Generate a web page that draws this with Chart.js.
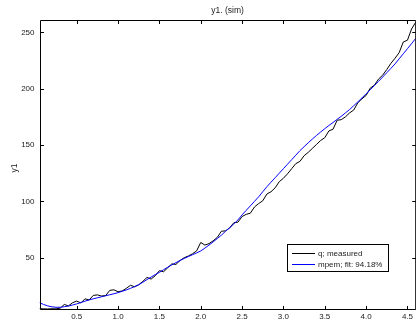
<!DOCTYPE html>
<html>
<head>
<meta charset="utf-8">
<script src="https://cdn.jsdelivr.net/npm/chart.js@4/dist/chart.umd.min.js"></script>
<style>
  body { margin: 0; background: #fff; }
  #wrap { width: 416px; height: 323px; overflow: hidden; }
</style>
</head>
<body>
<div id="wrap"><canvas id="chart" width="416" height="323"></canvas></div>
<script>
const time = [
  0.05, 0.10, 0.15, 0.20, 0.25, 0.30, 0.35, 0.40, 0.45, 0.50,
  0.55, 0.60, 0.65, 0.70, 0.75, 0.80, 0.85, 0.90, 0.95, 1.00,
  1.05, 1.10, 1.15, 1.20, 1.25, 1.30, 1.35, 1.40, 1.45, 1.50,
  1.55, 1.60, 1.65, 1.70, 1.75, 1.80, 1.85, 1.90, 1.95, 2.00,
  2.05, 2.10, 2.15, 2.20, 2.25, 2.30, 2.35, 2.40, 2.45, 2.50,
  2.55, 2.60, 2.65, 2.70, 2.75, 2.80, 2.85, 2.90, 2.95, 3.00,
  3.05, 3.10, 3.15, 3.20, 3.25, 3.30, 3.35, 3.40, 3.45, 3.50,
  3.55, 3.60, 3.65, 3.70, 3.75, 3.80, 3.85, 3.90, 3.95, 4.00,
  4.05, 4.10, 4.15, 4.20, 4.25, 4.30, 4.35, 4.40, 4.45, 4.50,
  4.55, 4.60
];

// q; measured
const measured = [
  4.8, 4.6, 4.5, 4.7, 4.6, 5.2, 8.5, 7.2, 10.0, 11.5,
  9.8, 13.5, 12.5, 16.5, 17.0, 16.0, 16.4, 21.0, 21.5, 19.8,
  20.5, 22.8, 25.5, 24.2, 26.0, 29.0, 32.5, 31.0, 34.0, 38.5,
  37.5, 41.0, 44.5, 44.0, 47.5, 50.0, 51.5, 53.5, 56.0, 63.5,
  61.2, 62.5, 65.0, 68.0, 73.5, 73.8, 76.5, 81.0, 81.5, 86.5,
  88.5, 89.5, 95.0, 98.0, 100.5, 106.5, 108.5, 112.0, 117.5, 120.5,
  124.5, 129.0, 133.5, 135.5, 140.5, 143.5, 147.0, 150.5, 154.0, 156.5,
  162.5, 164.0, 172.0, 172.5, 175.0, 178.5, 181.0, 187.5, 191.0, 194.0,
  200.5, 203.0, 208.5, 212.0, 217.0, 222.5, 227.0, 232.0, 241.5, 243.0,
  253.0, 259.0
];

// mpem; simulated fit
const fitted = [
  10.0, 8.5, 7.2, 6.4, 6.0, 6.0, 6.5, 7.1, 8.0, 9.0,
  10.2, 11.4, 12.5, 13.5, 14.4, 15.3, 16.2, 17.1, 18.0, 19.0,
  20.2, 21.4, 22.8, 24.3, 26.0, 28.2, 30.6, 32.8, 35.0, 37.0,
  39.3, 41.5, 43.6, 45.6, 47.5, 49.3, 51.0, 52.6, 54.2, 56.0,
  58.5, 61.2, 64.0, 67.0, 70.0, 73.5, 76.5, 80.0, 83.5, 88.0,
  92.0, 96.0, 100.0, 104.0, 108.5, 113.0, 117.0, 121.0, 125.0, 129.0,
  133.0, 137.0, 141.0, 145.0, 148.5, 152.0, 155.3, 158.5, 161.5, 164.5,
  167.3, 170.0, 172.8, 175.5, 178.5, 181.5, 184.8, 188.3, 191.8, 195.5,
  199.0, 202.8, 206.5, 210.3, 214.2, 218.0, 222.0, 226.5, 231.0, 235.5,
  240.0, 244.6
];

const seriesLabels = ['q; measured', 'mpem; fit: 94.18%'];
const seriesColors = ['#000000', '#0000ff'];
const xTicks = [0.5, 1, 1.5, 2, 2.5, 3, 3.5, 4, 4.5];
const yTicks = [50, 100, 150, 200, 250];
const titleText = 'y1. (sim)';
const yLabel = 'y1';

const FONT = '"Liberation Sans", Arial, sans-serif';

// matlab style box: border, inward ticks on every side, title, y label, legend
const matlabFrame = {
  id: 'matlabFrame',
  afterDraw(chart) {
    const ctx = chart.ctx;
    const a = chart.chartArea;
    const xs = chart.scales.x, ys = chart.scales.y;
    const L = Math.round(a.left) + 0.5, R = a.right;
    const T = Math.round(a.top) + 0.5, B = Math.round(a.bottom) + 0.5;
    ctx.save();
    ctx.strokeStyle = '#000';
    ctx.lineWidth = 1;
    ctx.beginPath();
    ctx.moveTo(L, T); ctx.lineTo(R, T);
    ctx.moveTo(L, B); ctx.lineTo(R, B);
    ctx.moveTo(L, T); ctx.lineTo(L, B);
    ctx.moveTo(R, T); ctx.lineTo(R, B);
    xTicks.forEach(v => {
      const px = Math.round(xs.getPixelForValue(v)) + 0.5;
      ctx.moveTo(px, B); ctx.lineTo(px, B - 3.5);
      ctx.moveTo(px, T); ctx.lineTo(px, T + 3.5);
    });
    yTicks.forEach(v => {
      const py = Math.round(ys.getPixelForValue(v)) + 0.5;
      ctx.moveTo(L, py); ctx.lineTo(L + 3.5, py);
      ctx.moveTo(R, py); ctx.lineTo(R - 3.5, py);
    });
    ctx.stroke();

    ctx.fillStyle = '#222';
    ctx.font = '8.5px ' + FONT;
    ctx.textAlign = 'center';
    ctx.textBaseline = 'middle';
    ctx.fillText(titleText, (a.left + a.right) / 2, 11);

    ctx.save();
    ctx.translate(15, 168);
    ctx.rotate(-Math.PI / 2);
    ctx.fillText(yLabel, 0, 0);
    ctx.restore();

    // legend box
    ctx.fillStyle = '#fff';
    ctx.fillRect(287, 244, 101, 27);
    ctx.strokeStyle = '#000';
    ctx.strokeRect(287.5, 244.5, 101, 27);
    ctx.font = '8px ' + FONT;
    ctx.textAlign = 'left';
    seriesLabels.forEach((lab, i) => {
      const y = 253.5 + i * 11;
      ctx.strokeStyle = seriesColors[i];
      ctx.beginPath();
      ctx.moveTo(292, y); ctx.lineTo(315, y);
      ctx.stroke();
      ctx.fillStyle = '#222';
      ctx.fillText(lab, 318, y);
    });
    ctx.restore();
  }
};

const ctx = document.getElementById('chart').getContext('2d');
new Chart(ctx, {
  type: 'line',
  data: {
    datasets: [
      {
        label: seriesLabels[0],
        data: time.map((t, i) => ({ x: t, y: measured[i] })),
        borderColor: seriesColors[0],
        borderWidth: 1,
        pointRadius: 0,
        tension: 0,
        order: 1
      },
      {
        label: seriesLabels[1],
        data: time.map((t, i) => ({ x: t, y: fitted[i] })),
        borderColor: seriesColors[1],
        borderWidth: 1,
        pointRadius: 0,
        tension: 0,
        order: 0
      }
    ]
  },
  options: {
    responsive: false,
    animation: false,
    devicePixelRatio: 1,
    layout: { padding: { top: 19.5, left: 0, right: -1.6, bottom: 0 } },
    plugins: {
      legend: { display: false },
      title: { display: false },
      tooltip: { enabled: false }
    },
    scales: {
      x: {
        type: 'linear',
        min: 0.05,
        max: 4.6,
        grid: { display: false, drawTicks: false },
        border: { display: false },
        afterBuildTicks: s => { s.ticks = xTicks.map(v => ({ value: v })); },
        afterFit: s => { s.height = 13.7; },
        ticks: {
          padding: 3,
          maxRotation: 0,
          autoSkip: false,
          color: '#222',
          font: { family: FONT, size: 8 }
        }
      },
      y: {
        min: 4.2,
        max: 261.4,
        grid: { display: false, drawTicks: false },
        border: { display: false },
        afterBuildTicks: s => { s.ticks = yTicks.map(v => ({ value: v })); },
        afterFit: s => { s.width = 39.5; },
        ticks: {
          padding: 5,
          color: '#222',
          font: { family: FONT, size: 8 }
        }
      }
    }
  },
  plugins: [matlabFrame]
});
</script>
</body>
</html>
